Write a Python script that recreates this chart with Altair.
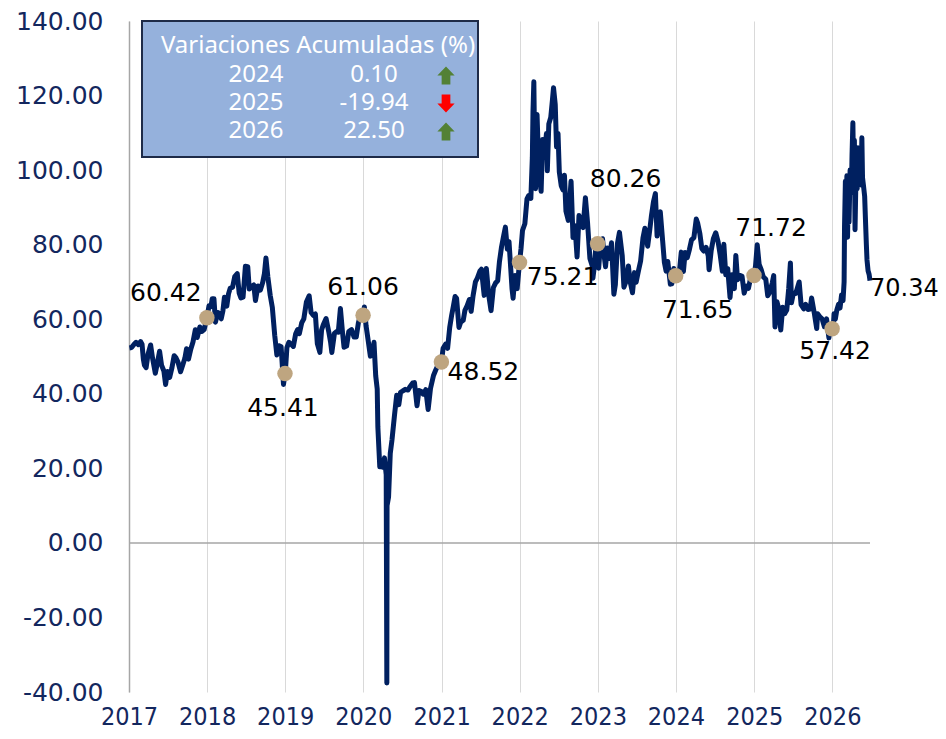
import altair as alt
import pandas as pd

# ---------------- data (WTI, USD/bbl) ----------------
d2017 = ["01-03","01-13","01-24","02-03","02-14","02-24","03-03","03-09","03-14","03-22","03-31","04-12","04-21","05-04","05-12","05-24","06-02","06-13","06-21","06-30","07-10","07-20","07-31","08-09","08-18","08-30","09-08","09-19","09-27","10-06","10-17","10-27","11-07","11-16","11-28","12-07","12-18","12-31"]
v2017 = [52.3,52.4,53.2,53.8,53.2,54.0,53.3,49.3,47.7,47.0,50.6,53.1,49.6,45.5,47.8,51.4,47.7,46.1,42.5,46.0,44.4,46.8,50.2,49.6,48.5,45.9,47.5,49.5,52.1,49.3,52.0,53.9,57.2,55.1,57.9,56.7,57.2,60.42]

d2018 = ["01-10","01-19","01-25","02-02","02-09","02-20","02-28","03-08","03-16","03-23","04-03","04-11","04-19","04-30","05-10","05-22","05-31","06-08","06-18","06-29","07-10","07-17","07-27","08-07","08-15","08-27","09-07","09-18","09-26","10-03","10-12","10-23","11-02","11-13","11-23","12-03","12-13","12-24","12-31"]
v2018 = [63.6,63.4,65.5,65.5,59.2,61.8,61.6,60.1,62.3,65.9,63.5,66.8,68.3,68.6,71.4,72.2,67.0,65.7,65.9,74.2,74.1,68.1,68.7,69.2,65.0,68.9,67.8,69.9,72.3,76.4,71.3,66.4,63.1,55.7,50.4,52.9,52.6,42.5,45.41]

d2019 = ["01-03","01-09","01-18","01-29","02-08","02-19","02-28","03-08","03-19","03-29","04-10","04-23","05-02","05-13","05-22","05-31","06-12","06-20","06-28","07-11","07-23","08-01","08-07","08-19","08-29","09-06","09-16","09-26","10-03","10-15","10-25","11-07","11-19","11-29","12-09","12-19","12-31"]
v2019 = [47.1,52.4,53.8,53.3,52.7,56.1,57.2,56.1,59.0,60.1,64.6,66.3,61.8,61.0,61.4,53.5,51.1,57.1,58.5,60.2,56.8,53.9,51.1,56.2,56.7,56.5,62.9,56.4,52.5,52.8,56.7,57.2,55.2,55.2,59.0,61.2,61.06]

d2020 = ["01-06","01-14","01-24","02-03","02-12","02-20","02-28","03-06","03-09","03-18","03-27","04-01","04-09","04-17","04-20","04-21","04-28","05-06","05-14","05-26","06-05","06-15","06-23","07-02","07-15","07-28","08-06","08-19","08-27","09-08","09-17","09-28","10-07","10-19","10-30","11-10","11-24","12-04","12-16","12-31"]
v2020 = [63.3,58.2,54.2,50.1,51.2,53.8,44.8,41.3,31.1,20.4,21.5,20.3,22.8,18.3,-37.6,10.0,12.3,24.0,27.6,34.4,39.6,37.1,40.4,40.7,41.2,41.0,41.9,42.9,43.0,36.8,40.9,40.6,39.9,41.1,35.8,41.4,44.9,46.3,47.8,48.52]

d2021 = ["01-08","01-20","01-29","02-08","02-17","02-25","03-05","03-12","03-23","03-31","04-12","04-20","04-30","05-11","05-19","05-28","06-08","06-17","06-29","07-06","07-19","07-29","08-09","08-20","08-31","09-10","09-20","09-28","10-08","10-18","10-26","11-04","11-12","11-26","12-01","12-10","12-20","12-31"]
v2021 = [52.2,53.3,52.2,57.9,61.1,63.5,66.1,65.6,57.8,59.2,59.7,62.4,63.6,65.3,62.1,66.3,70.0,71.0,72.9,73.4,66.4,73.6,66.5,62.3,68.5,69.7,70.3,75.3,79.4,82.4,84.7,78.8,80.8,68.2,65.6,71.7,68.2,75.21]

d2022 = ["01-07","01-14","01-25","02-04","02-11","02-22","03-01","03-04","03-08","03-11","03-16","03-23","03-31","04-11","04-18","04-28","05-06","05-10","05-17","05-26","06-03","06-08","06-16","06-22","06-29","07-05","07-14","07-22","07-29","08-05","08-16","08-29","09-07","09-16","09-26","10-05","10-14","10-24","11-04","11-14","11-25","12-06","12-09","12-16","12-23","12-31"]
v2022 = [78.9,83.8,85.6,92.3,93.1,92.4,103.4,115.7,123.7,109.3,95.0,114.9,100.3,94.3,108.2,105.4,109.8,99.8,112.4,114.1,118.9,122.1,117.6,106.2,109.8,99.5,95.8,94.7,98.6,89.0,86.5,97.0,81.9,85.1,76.7,87.8,85.6,84.6,92.6,85.9,76.3,74.3,71.0,74.3,79.6,80.26]

d2023 = ["01-05","01-13","01-23","02-01","02-06","02-14","02-24","03-06","03-17","03-24","04-03","04-12","04-25","05-03","05-12","05-24","06-01","06-12","06-21","06-29","07-10","07-20","07-31","08-09","08-22","08-31","09-08","09-18","09-27","10-05","10-13","10-20","10-31","11-08","11-16","11-24","12-06","12-13","12-22","12-31"]
v2023 = [73.7,79.9,81.6,76.4,74.1,79.1,76.3,80.5,66.7,69.3,80.4,83.3,77.1,68.6,70.0,74.3,70.1,67.1,72.5,69.9,73.0,75.6,81.8,84.4,79.6,83.6,87.5,91.5,93.7,82.3,87.7,88.8,81.0,75.3,72.9,75.5,69.4,69.5,73.6,71.65]

d2024 = ["01-08","01-17","01-26","02-05","02-13","02-23","03-04","03-14","03-25","04-05","04-12","04-22","05-01","05-10","05-21","05-31","06-04","06-14","06-24","07-05","07-16","07-26","08-05","08-12","08-21","08-30","09-10","09-19","09-30","10-07","10-15","10-25","11-05","11-15","11-25","12-05","12-16","12-31"]
v2024 = [70.8,72.6,78.0,72.8,77.9,76.5,78.7,81.3,81.9,86.9,85.7,82.9,79.0,78.3,79.3,77.0,73.3,78.5,81.6,83.2,80.8,77.2,72.9,80.1,71.9,73.6,65.8,71.9,68.2,77.1,70.6,71.8,71.5,67.0,68.9,68.3,71.3,71.72]

d2025 = ["01-07","01-15","01-24","02-03","02-12","02-24","03-05","03-14","03-26","04-02","04-08","04-17","04-25","05-05","05-14","05-23","06-02","06-11","06-19","06-24","07-03","07-14","07-30","08-08","08-20","08-29","09-09","09-19","09-26","10-09","10-20","10-24","11-04","11-14","11-25","12-05","12-16","12-24","12-31"]
v2025 = [74.3,80.0,74.7,73.2,71.4,70.7,66.3,67.2,69.7,71.7,57.9,64.7,63.0,57.1,63.2,61.5,62.5,68.2,75.1,64.4,67.0,66.9,70.0,63.9,62.8,64.0,62.6,62.7,65.7,61.5,57.5,61.5,60.6,60.1,58.0,60.1,55.0,58.4,57.42]

d2026 = ["01-06","01-09","01-15","01-22","01-30","02-06","02-13","02-20","02-25","02-27","03-03","03-06","03-10","03-13","03-17","03-20","03-25","03-31","04-03","04-07","04-10","04-14","04-17","04-22","04-27","05-01","05-06","05-11","05-15","05-19","05-22","05-27","06-01","06-04","06-09","06-12","06-17","06-22","06-26"]
v2026 = [58.5,61.5,60.0,62.5,64.0,63.0,66.5,65.0,70.0,85.0,97.0,90.0,98.5,82.0,95.0,86.0,100.0,94.0,104.0,112.7,100.0,108.0,84.0,100.0,95.0,106.0,98.0,105.0,96.0,108.7,98.0,95.6,93.0,88.0,80.0,75.9,73.0,72.0,70.34]

# year-end annotated closes
marker_dates = ["2017-12-31","2018-12-31","2019-12-31","2020-12-31","2021-12-31","2022-12-31","2023-12-31","2024-12-31","2025-12-31"]
marker_values = [60.42, 45.41, 61.06, 48.52, 75.21, 80.26, 71.65, 71.72, 57.42]
last_date = "2026-06-26"
last_value = 70.34

# summary box
box_title = "Variaciones Acumuladas (%)"
box_years = ["2024", "2025", "2026"]
box_changes = ["0.10", "-19.94", "22.50"]
box_direction = ["up", "down", "up"]

year_ticks = list(range(2017, 2027))
y_ticks = list(range(-40, 141, 20))

# ---------------- styling ----------------
NAVY = "#002060"
AXIS_TXT = "#13275E"
TAN = "#BEA580"
label_offsets = [(-41, -25), (-2, 34), (0, -28), (42, 10), (43, 14), (28, -65), (22, 34), (17, -48), (3, 22)]

series = {2017: (d2017, v2017), 2018: (d2018, v2018), 2019: (d2019, v2019),
          2020: (d2020, v2020), 2021: (d2021, v2021), 2022: (d2022, v2022),
          2023: (d2023, v2023), 2024: (d2024, v2024), 2025: (d2025, v2025),
          2026: (d2026, v2026)}
rows = []
for yr, (ds, vs) in series.items():
    for d, v in zip(ds, vs, strict=True):
        rows.append({"date": f"{yr}-{d}", "price": v})
df = pd.DataFrame(rows)

x_scale = alt.Scale(type="utc", domain=[alt.DateTime(year=2017, month=1, date=1, utc=True),
                                        alt.DateTime(year=2026, month=6, date=26, utc=True)])
y_scale = alt.Scale(domain=[-40, 140], nice=False, zero=False)

x_enc = alt.X("date:T", scale=x_scale, title=None,
              axis=alt.Axis(values=[alt.DateTime(year=y, month=1, date=1, utc=True) for y in year_ticks],
                            format="%Y", labelFont="DejaVu Sans Condensed", labelFontSize=25,
                            labelColor=AXIS_TXT, domain=False, ticks=False, grid=True,
                            gridColor="#D9D9D9", gridWidth=1, labelPadding=12,
                            labelFlush=False, labelOverlap=False))
y_enc = alt.Y("price:Q", scale=y_scale, title=None,
              axis=alt.Axis(values=y_ticks, labelExpr="replace(format(datum.value, '.2f'), '\u2212', '-')",
                            labelFont="DejaVu Sans", labelFontSize=25, labelColor=AXIS_TXT,
                            domainColor="#A6A6A6", domainWidth=1.5, ticks=False, grid=False,
                            labelPadding=26))

zero_rule = alt.Chart(pd.DataFrame({"price": [0]})).mark_rule(
    color="#A6A6A6", strokeWidth=1.5).encode(y=alt.Y("price:Q", scale=y_scale))

line = alt.Chart(df).mark_line(color=NAVY, strokeWidth=5, strokeJoin="round").encode(x=x_enc, y=y_enc)

mk_df = pd.DataFrame({"date": marker_dates, "price": marker_values})
markers = alt.Chart(mk_df).mark_circle(color=TAN, size=240, opacity=1).encode(
    x="date:T", y="price:Q")

layers = [zero_rule, line, markers]
for (d, v), (dx, dy) in zip(zip(marker_dates, marker_values), label_offsets):
    t = alt.Chart(pd.DataFrame({"date": [d], "price": [v], "lab": [f"{v:.2f}"]})).mark_text(
        font="DejaVu Sans", fontSize=25, color="#000000", align="center", baseline="middle",
        dx=dx, dy=dy).encode(x="date:T", y="price:Q", text="lab:N")
    layers.append(t)

end_lab = alt.Chart(pd.DataFrame({"date": [last_date], "price": [last_value],
                                  "lab": [f"{last_value:.2f}"]})).mark_text(
    font="DejaVu Sans", fontSize=24, color="#000000", align="left", baseline="middle",
    dx=0, dy=8).encode(x="date:T", y="price:Q", text="lab:N")
layers.append(end_lab)

# summary box
one = pd.DataFrame({"a": [0]})
box = alt.Chart(one).mark_rect(fill="#95B1DC", stroke="#1E2B48", strokeWidth=2).encode(
    x=alt.value(13), x2=alt.value(349), y=alt.value(0), y2=alt.value(136))
layers.append(box)
layers.append(alt.Chart(one).mark_text(font="Noto Sans", fontSize=24, color="white",
                                       align="center", baseline="middle").encode(
    x=alt.value(189), y=alt.value(25), text=alt.value(box_title)))

UP = "M0,-1L0.95,0L0.48,0L0.48,1L-0.48,1L-0.48,0L-0.95,0Z"
DOWN = "M0,1L0.95,0L0.48,0L0.48,-1L-0.48,-1L-0.48,0L-0.95,0Z"
for i, (yr, ch, dr) in enumerate(zip(box_years, box_changes, box_direction)):
    ry = 54 + 28 * i
    layers.append(alt.Chart(one).mark_text(font="Noto Sans", fontSize=24, color="white",
                                           align="center", baseline="middle").encode(
        x=alt.value(127), y=alt.value(ry), text=alt.value(yr)))
    layers.append(alt.Chart(one).mark_text(font="Noto Sans", fontSize=24, color="white",
                                           align="center", baseline="middle").encode(
        x=alt.value(245), y=alt.value(ry), text=alt.value(ch)))
    layers.append(alt.Chart(one).mark_point(
        shape=UP if dr == "up" else DOWN, filled=True, size=330, opacity=1, strokeWidth=0,
        color="#538135" if dr == "up" else "#FF0000").encode(
        x=alt.value(317), y=alt.value(ry + 0.5)))

chart = alt.layer(*layers).properties(
    width=741, height=671,
    autosize=alt.AutoSizeParams(type="none"),
    padding={"left": 121, "top": 13, "right": 68, "bottom": 39},
    background="white",
).configure_view(stroke=None)

chart.save("out.html", embed_options={"renderer": "svg", "actions": False})
